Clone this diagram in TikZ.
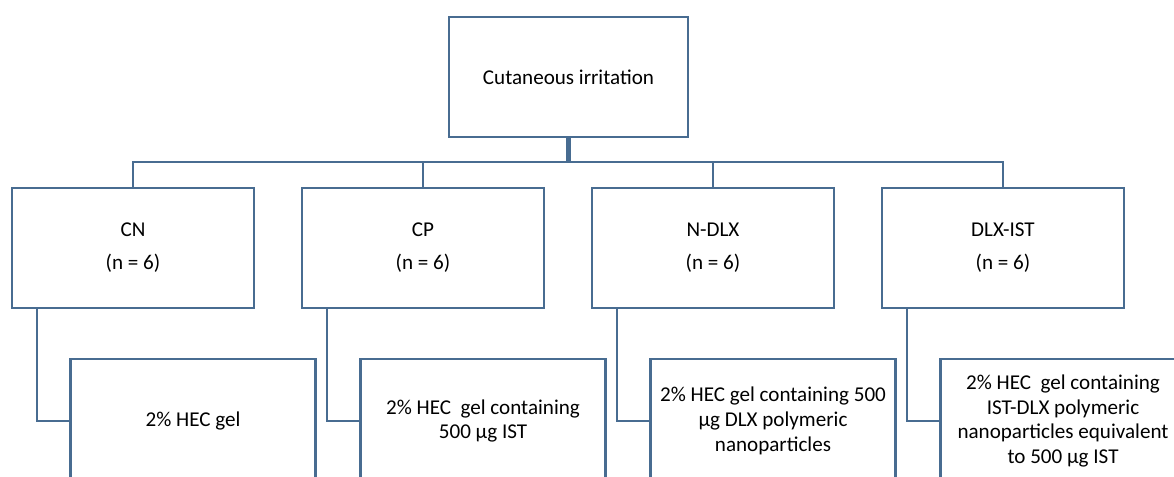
\documentclass[tikz,border=0pt]{standalone}
\usepackage{fontspec}
\setmainfont{Carlito}
\usetikzlibrary{positioning}
\definecolor{boxline}{RGB}{72,108,145}

\begin{document}
\begin{tikzpicture}[font=\fontsize{12}{14.2}\selectfont,
  box/.style={draw=boxline,line width=1.6pt,fill=white,align=center,
    minimum width=4.84cm,minimum height=2.4cm,inner sep=2pt},
  link/.style={draw=boxline,line width=1.6pt}]

\useasboundingbox (0,0) rectangle (23.48,9.54);
\clip (0,0) rectangle (23.48,9.54);

% Top box
\node[box,minimum width=4.78cm] (top) at (11.37,8.0) {Cutaneous irritation};
\coordinate (bar) at (11.37,6.3);
\draw[link,line width=2.4pt] (top.south) -- (bar);

% Groups and their gels
\foreach \x/\nm/\lab/\gel in {2.66/cn/CN/{2\% HEC gel},
                              8.46/cp/CP/{2\% HEC\ \ gel containing\\500 µg IST},
                              14.26/ndlx/N-DLX/{2\% HEC gel containing 500\\µg DLX polymeric\\nanoparticles},
                              20.06/dlxist/DLX-IST/{2\% HEC\ \ gel containing\\IST-DLX polymeric\\nanoparticles equivalent\\to 500 µg IST}}
{
  \node[box] (\nm) at (\x,4.58) {\lab\\[0.16cm](n = 6)};
  \node[box,minimum width=4.9cm,minimum height=2.48cm] (\nm gel) at (\x+1.2,1.12) {\gel};
  \draw[link] (\nm.north) -- (\nm.north |- bar) -- (bar);
  \draw[link] ([xshift=-1.92cm]\nm.south) |- (\nm gel.west);
}

\end{tikzpicture}
\end{document}
